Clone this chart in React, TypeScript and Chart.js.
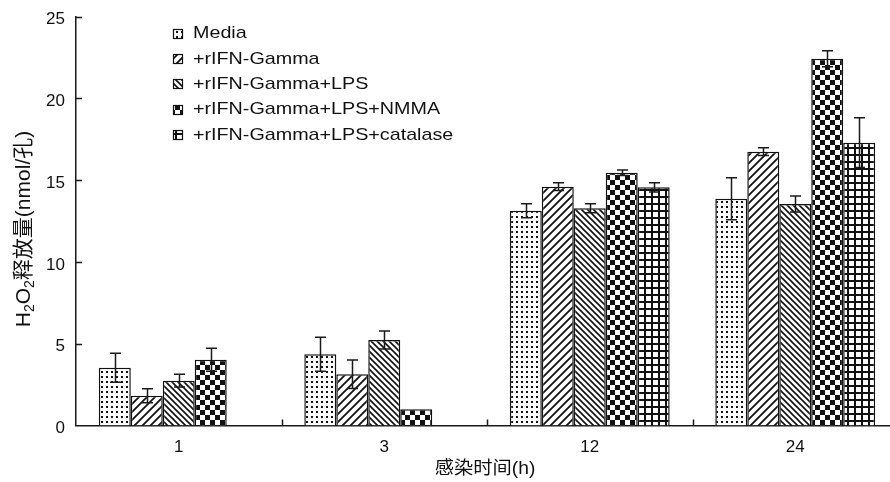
import React, { useEffect, useRef } from "react";
import { Chart, registerables } from "chart.js";

Chart.register(...registerables);

const categories = ["1", "3", "12", "24"];
const seriesNames = [
  "Media",
  "+rIFN-Gamma",
  "+rIFN-Gamma+LPS",
  "+rIFN-Gamma+LPS+NMMA",
  "+rIFN-Gamma+LPS+catalase",
];
const media = [3.53, 4.35, 13.13, 13.86];
const mediaErr = [0.88, 1.04, 0.43, 1.29];
const gamma = [1.82, 3.13, 14.6, 16.74];
const gammaErr = [0.43, 0.87, 0.24, 0.24];
const lps = [2.74, 5.23, 13.28, 13.54];
const lpsErr = [0.39, 0.55, 0.28, 0.49];
const nmma = [4.02, 0.99, 15.45, 22.42];
const nmmaErr = [0.7, 0, 0.17, 0.49];
const catalase = [null, null, 14.56, 17.29];
const catalaseErr = [null, null, 0.28, 1.52];
const yTicks = [0, 5, 10, 15, 20, 25];

const FONT = '"Liberation Sans", Arial, "Noto Sans CJK SC", sans-serif';
const INK = "#111";

function makePattern(kind: string): CanvasPattern | string {
  const c = document.createElement("canvas");
  let s = 8;
  if (kind === "dots") s = 5;
  if (kind === "slash") s = 8;
  if (kind === "back") s = 6;
  if (kind === "check") s = 10;
  if (kind === "grid") s = 7;
  c.width = s;
  c.height = s;
  const g = c.getContext("2d");
  if (!g) return "#fff";
  g.fillStyle = "#fff";
  g.fillRect(0, 0, s, s);
  g.fillStyle = INK;
  g.strokeStyle = INK;
  if (kind === "dots") {
    g.fillRect(1, 1, 2, 2);
  } else if (kind === "slash") {
    g.lineWidth = 1.8;
    g.beginPath();
    g.moveTo(-1, s + 1);
    g.lineTo(s + 1, -1);
    g.moveTo(-2, 2);
    g.lineTo(2, -2);
    g.moveTo(s - 2, s + 2);
    g.lineTo(s + 2, s - 2);
    g.stroke();
  } else if (kind === "back") {
    g.lineWidth = 1.6;
    g.beginPath();
    g.moveTo(-1, -1);
    g.lineTo(s + 1, s + 1);
    g.moveTo(-2, s - 2);
    g.lineTo(2, s + 2);
    g.moveTo(s - 2, -2);
    g.lineTo(s + 2, 2);
    g.stroke();
  } else if (kind === "check") {
    g.fillRect(0, 0, 5, 5);
    g.fillRect(5, 5, 5, 5);
  } else if (kind === "grid") {
    g.fillRect(0, 0, s, 2);
    g.fillRect(0, 0, 2, s);
  }
  const p = g.createPattern(c, "repeat");
  return p || "#fff";
}

export default function App() {
  const ref = useRef<HTMLCanvasElement | null>(null);

  useEffect(() => {
    if (!ref.current) return;
    const kinds = ["dots", "slash", "back", "check", "grid"];
    const patterns = kinds.map((k) => makePattern(k));
    const values = [media, gamma, lps, nmma, catalase];
    const errors = [mediaErr, gammaErr, lpsErr, nmmaErr, catalaseErr];

    const custom = {
      id: "custom",
      afterDatasetsDraw(chart: any) {
        const ctx = chart.ctx;
        const ys = chart.scales.y;
        ctx.save();
        ctx.strokeStyle = "#1a1a1a";
        ctx.lineWidth = 1.5;
        chart.data.datasets.forEach((ds: any, i: number) => {
          const meta = chart.getDatasetMeta(i);
          meta.data.forEach((el: any, j: number) => {
            const v = ds.data[j];
            const e = errors[i][j];
            if (v == null || !e) return;
            const x = Math.round(el.x) + 0.5;
            const yt = ys.getPixelForValue(v + e);
            const yb = ys.getPixelForValue(v - e);
            ctx.beginPath();
            ctx.moveTo(x, yt);
            ctx.lineTo(x, yb);
            ctx.moveTo(x - 5.5, yt);
            ctx.lineTo(x + 5.5, yt);
            ctx.moveTo(x - 5.5, yb);
            ctx.lineTo(x + 5.5, yb);
            ctx.stroke();
          });
        });
        ctx.restore();
      },
      afterDraw(chart: any) {
        const ctx = chart.ctx;
        const { left, right, bottom } = chart.chartArea;
        const ys = chart.scales.y;
        ctx.save();
        ctx.strokeStyle = "#1a1a1a";
        ctx.lineWidth = 1.5;
        ctx.beginPath();
        yTicks.forEach((t) => {
          if (t === 0) return;
          const py = Math.round(ys.getPixelForValue(t)) + 0.5;
          ctx.moveTo(left, py);
          ctx.lineTo(left + 6, py);
        });
        const n = categories.length;
        for (let k = 1; k < n; k++) {
          const px = Math.round(left + (k * (right - left)) / n) + 0.5;
          ctx.moveTo(px, bottom);
          ctx.lineTo(px, bottom - 6);
        }
        ctx.stroke();

        // legend
        ctx.textBaseline = "middle";
        ctx.textAlign = "left";
        seriesNames.forEach((name, i) => {
          const cy = 33.5 + i * 25.4;
          ctx.fillStyle = patterns[i] as any;
          ctx.fillRect(173, Math.round(cy - 5), 10, 10);
          ctx.lineWidth = 1.2;
          ctx.strokeStyle = INK;
          ctx.strokeRect(173.5, Math.round(cy - 5) + 0.5, 9, 9);
          ctx.save();
          ctx.translate(193, cy);
          ctx.scale(1.16, 1);
          ctx.font = "17px " + FONT;
          ctx.fillStyle = INK;
          ctx.fillText(name, 0, 0);
          ctx.restore();
        });

        // x title
        ctx.save();
        ctx.translate(485, 469);
        ctx.scale(1.07, 1);
        ctx.font = "18px " + FONT;
        ctx.textAlign = "center";
        ctx.textBaseline = "middle";
        ctx.fillStyle = INK;
        ctx.fillText("感染时间(h)", 0, 0);
        ctx.restore();

        // y title with subscripts
        ctx.fillStyle = INK;
        ctx.translate(22.5, 229);
        ctx.rotate(-Math.PI / 2);
        ctx.textAlign = "left";
        ctx.textBaseline = "alphabetic";
        const segs: [string, boolean][] = [
          ["H", false],
          ["2", true],
          ["O", false],
          ["2", true],
          ["释放量(nmol/孔)", false],
        ];
        const big = "21px " + FONT;
        const small = "14px " + FONT;
        let total = 0;
        segs.forEach(([t, sub]) => {
          ctx.font = sub ? small : big;
          total += ctx.measureText(t).width;
        });
        let cx = -total / 2;
        segs.forEach(([t, sub]) => {
          ctx.font = sub ? small : big;
          ctx.fillText(t, cx, sub ? 11 : 7.5);
          cx += ctx.measureText(t).width;
        });
        ctx.restore();
      },
    };

    const chart = new Chart(ref.current, {
      type: "bar",
      data: {
        labels: categories,
        datasets: values.map((d, i) => ({
          label: seriesNames[i],
          data: d as any,
          backgroundColor: patterns[i] as any,
          borderColor: INK,
          borderWidth: 1.5,
          categoryPercentage: 0.778,
          barPercentage: 1,
        })),
      },
      options: {
        animation: false,
        responsive: false,
        devicePixelRatio: 1,
        layout: { padding: { top: 16.5, left: 0, right: 0, bottom: 0 } },
        plugins: {
          legend: { display: false },
          tooltip: { enabled: false },
        },
        scales: {
          x: {
            type: "category",
            offset: true,
            grid: { display: false, drawTicks: false },
            border: { display: true, color: "#1a1a1a", width: 1.5 },
            ticks: { color: INK, font: { size: 17, family: FONT }, padding: 12 },
            afterFit: (s: any) => {
              s.height = 56.5;
              s.paddingLeft = 0;
              s.paddingRight = 0;
            },
          },
          y: {
            min: 0,
            max: 25,
            grid: { display: false, drawTicks: false },
            border: { display: true, color: "#1a1a1a", width: 1.5 },
            afterBuildTicks: (s: any) => {
              s.ticks = yTicks.map((v) => ({ value: v }));
            },
            ticks: {
              color: INK,
              font: { size: 17, family: FONT },
              padding: 11,
              labelOffset: 3,
            },
            afterFit: (s: any) => {
              s.width = 76;
              s.paddingTop = 0;
              s.paddingBottom = 0;
            },
          },
        },
      },
      plugins: [custom],
    });
    return () => chart.destroy();
  }, []);

  return (
    <div
      style={{
        position: "fixed",
        left: 0,
        top: 0,
        width: 890,
        height: 482,
        overflow: "hidden",
        background: "#fff",
      }}
    >
      <canvas ref={ref} width={898} height={482} style={{ display: "block" }} />
    </div>
  );
}
